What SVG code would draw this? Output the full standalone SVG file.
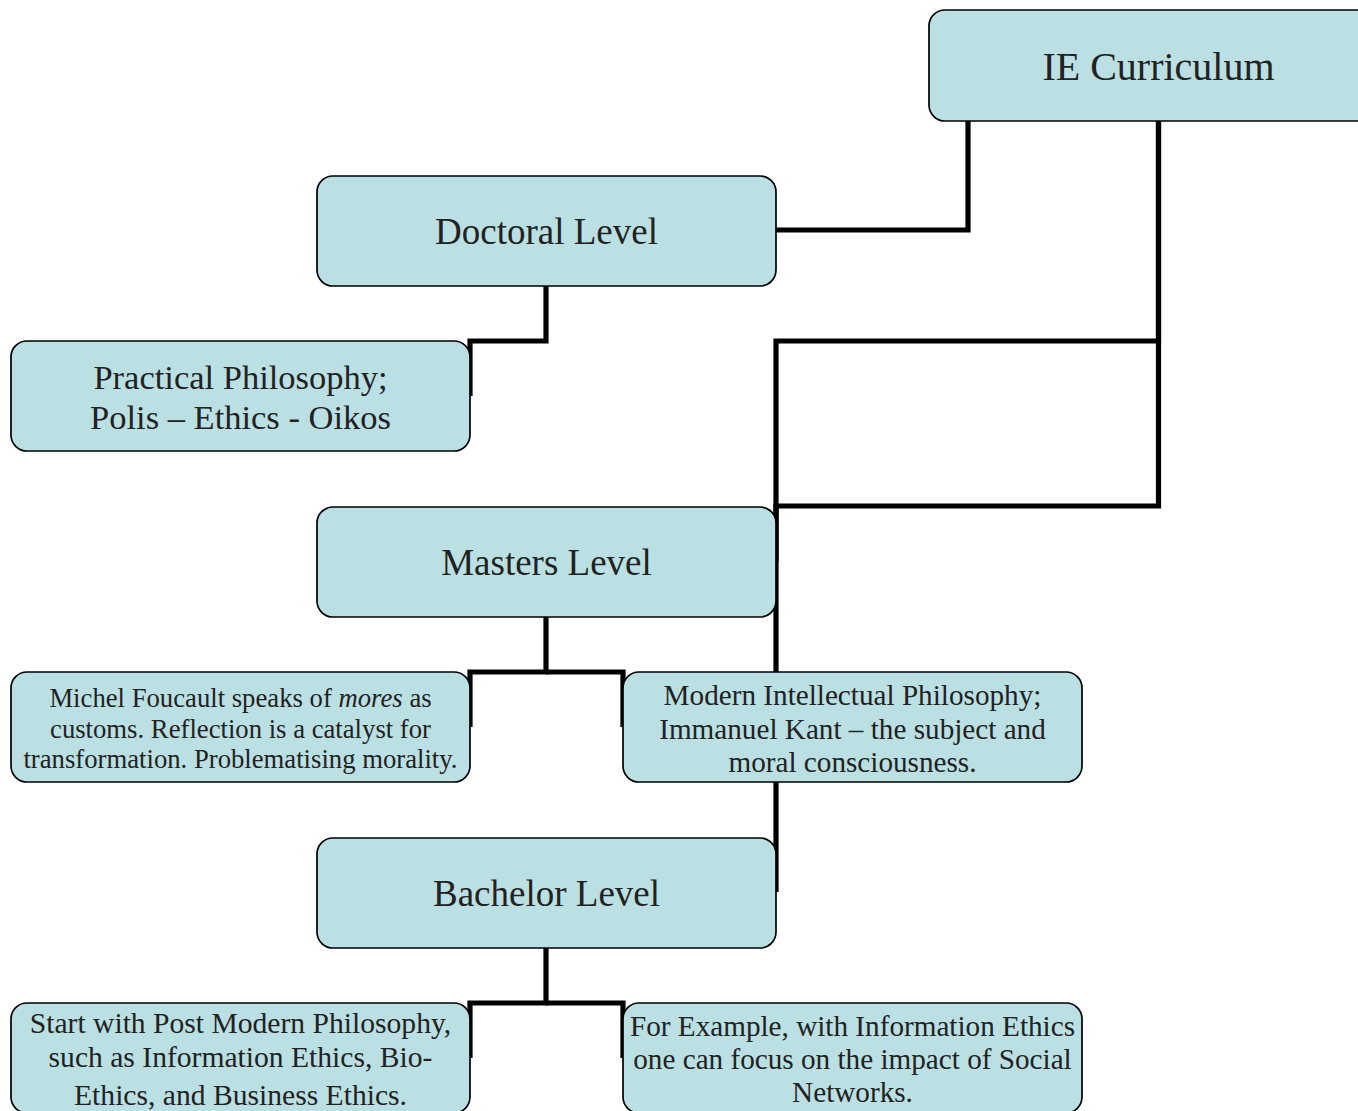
<svg xmlns="http://www.w3.org/2000/svg" width="1358" height="1111" viewBox="0 0 1358 1111">
<style>
.box{fill:#bbe0e3;stroke:#000;stroke-width:1.7}
.lbl{font-family:"Liberation Serif","Times New Roman",serif;fill:#222;text-anchor:middle}
.big{font-size:37px}
.mid{font-size:34.5px}
.sm{font-size:29.2px}
.xs{font-size:26.7px}
.con{fill:none;stroke:#000;stroke-width:5.2;stroke-linejoin:miter;stroke-linecap:butt}
</style>
<g id="connectors">
<path class="con" d="M968,121 V230 H776"/>
<path class="con" d="M1158.5,121 V341 H776 V562"/>
<path class="con" d="M1158.5,121 V506 H776 V892"/>
<path class="con" d="M546,286 V341 H470 V396"/>
<path class="con" d="M546,617 V672 H470 V727"/>
<path class="con" d="M546,672 H623 V727"/>
<path class="con" d="M546,948 V1003 H470 V1058"/>
<path class="con" d="M546,1003 H623 V1058"/>
</g>
<g id="ie-curriculum">
<rect class="box" x="929" y="10" width="459" height="111" rx="16"/>
<text class="lbl" x="1158.5" y="80" style="font-size:40px">IE Curriculum</text>
</g>
<g id="doctoral">
<rect class="box" x="317" y="176" width="459" height="110" rx="16"/>
<text class="lbl big" x="546.5" y="244">Doctoral Level</text>
</g>
<g id="practical">
<rect class="box" x="11" y="341" width="459" height="110" rx="16"/>
<text class="lbl mid" x="240.5" y="389">Practical Philosophy;</text>
<text class="lbl mid" x="240.5" y="429">Polis – Ethics - Oikos</text>
</g>
<g id="masters">
<rect class="box" x="317" y="507" width="459" height="110" rx="16"/>
<text class="lbl big" x="546.5" y="575">Masters Level</text>
</g>
<g id="foucault">
<rect class="box" x="11" y="672" width="459" height="110" rx="16"/>
<text class="lbl xs" x="240.5" y="707">Michel Foucault speaks of <tspan font-style="italic">mores</tspan> as</text>
<text class="lbl xs" x="240.5" y="738">customs. Reflection is a catalyst for</text>
<text class="lbl xs" x="240.5" y="768">transformation. Problematising morality.</text>
</g>
<g id="modern">
<rect class="box" x="623" y="672" width="459" height="110" rx="16"/>
<text class="lbl sm" x="852.5" y="705">Modern Intellectual Philosophy;</text>
<text class="lbl sm" x="852.5" y="739">Immanuel Kant – the subject and</text>
<text class="lbl sm" x="852.5" y="772">moral consciousness.</text>
</g>
<g id="bachelor">
<rect class="box" x="317" y="838" width="459" height="110" rx="16"/>
<text class="lbl big" x="546.5" y="906">Bachelor Level</text>
</g>
<g id="start">
<rect class="box" x="11" y="1003" width="459" height="110" rx="16"/>
<text class="lbl" x="240.5" y="1033" style="font-size:29.6px">Start with Post Modern Philosophy,</text>
<text class="lbl" x="240.5" y="1067" style="font-size:29.6px">such as Information Ethics, Bio-</text>
<text class="lbl" x="240.5" y="1105" style="font-size:29.6px">Ethics, and Business Ethics.</text>
</g>
<g id="example">
<rect class="box" x="623" y="1003" width="459" height="110" rx="16"/>
<text class="lbl sm" x="852.5" y="1036">For Example, with Information Ethics</text>
<text class="lbl sm" x="852.5" y="1069">one can focus on the impact of Social</text>
<text class="lbl sm" x="852.5" y="1102">Networks.</text>
</g>
</svg>
